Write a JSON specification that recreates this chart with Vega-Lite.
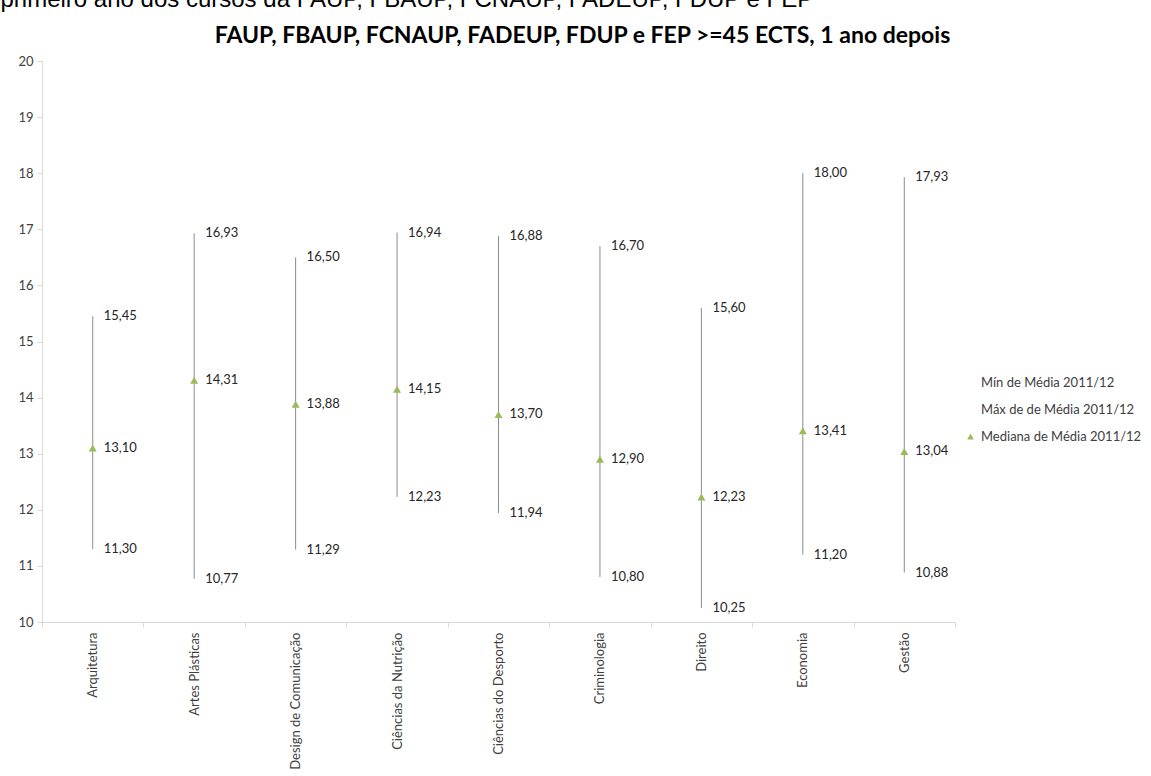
{
  "$schema": "https://vega.github.io/schema/vega-lite/v6.json",
  "width": 913,
  "height": 561,
  "autosize": "none",
  "padding": {"left": 42, "top": 61, "right": 196, "bottom": 154},
  "background": "white",
  "config": {
    "view": {"stroke": null},
    "locale": {"number": {"decimal": ",", "thousands": ".", "grouping": [3], "currency": ["", " €"]}},
    "font": "Lato"
  },
  "data": {
    "values": [
      {"curso": "Arquitetura", "min": 11.30, "max": 15.45, "med": 13.10},
      {"curso": "Artes Plásticas", "min": 10.77, "max": 16.93, "med": 14.31},
      {"curso": "Design de Comunicação", "min": 11.29, "max": 16.50, "med": 13.88},
      {"curso": "Ciências da Nutrição", "min": 12.23, "max": 16.94, "med": 14.15},
      {"curso": "Ciências do Desporto", "min": 11.94, "max": 16.88, "med": 13.70},
      {"curso": "Criminologia", "min": 10.80, "max": 16.70, "med": 12.90},
      {"curso": "Direito", "min": 10.25, "max": 15.60, "med": 12.23},
      {"curso": "Economia", "min": 11.20, "max": 18.00, "med": 13.41},
      {"curso": "Gestão", "min": 10.88, "max": 17.93, "med": 13.04}
    ]
  },
  "encoding": {
    "x": {
      "field": "curso",
      "type": "nominal",
      "sort": null,
      "scale": {"paddingInner": 0, "paddingOuter": 0},
      "axis": {
        "title": null,
        "labelAngle": -90,
        "labelAlign": "right",
        "labelBaseline": "middle",
        "labelFont": "Lato",
        "labelFontSize": 13,
        "labelColor": "#404040",
        "labelPadding": 5,
        "tickBand": "extent",
        "tickSize": 5,
        "tickColor": "#d9d9d9",
        "domainColor": "#d9d9d9",
        "labelLimit": 300
      }
    }
  },
  "layer": [
    {
      "mark": {"type": "rule", "color": "#8c8c8c", "strokeWidth": 1},
      "encoding": {
        "y": {
          "field": "min",
          "type": "quantitative",
          "scale": {"domain": [10, 20], "nice": false, "zero": false},
          "axis": {
            "title": null,
            "values": [10, 11, 12, 13, 14, 15, 16, 17, 18, 19, 20],
            "format": "d",
            "grid": false,
            "labelFont": "Lato",
            "labelFontSize": 13,
            "labelColor": "#404040",
            "labelPadding": 4,
            "tickSize": 5,
            "tickColor": "#d9d9d9",
            "domainColor": "#d9d9d9"
          }
        },
        "y2": {"field": "max"}
      }
    },
    {
      "mark": {"type": "point", "shape": "triangle-up", "filled": true, "size": 65, "opacity": 1},
      "encoding": {
        "y": {"field": "med", "type": "quantitative"},
        "color": {
          "datum": "Mediana de Média 2011/12",
          "type": "nominal",
          "scale": {
            "domain": ["Mín de Média 2011/12", "Máx de de Média 2011/12", "Mediana de Média 2011/12"],
            "range": ["transparent", "transparent", "#9bbb59"]
          },
          "legend": {
            "title": null,
            "orient": "none",
            "legendX": 922,
            "legendY": 315,
            "symbolType": "triangle-up",
            "symbolSize": 45,
            "labelFont": "Lato",
            "labelFontSize": 13,
            "labelColor": "#404040",
            "labelLimit": 300,
            "rowPadding": 13,
            "labelOffset": 4
          }
        }
      }
    },
    {
      "mark": {"type": "text", "align": "left", "baseline": "middle", "dx": 11, "fontSize": 13, "color": "#262626"},
      "encoding": {
        "y": {"field": "max", "type": "quantitative"},
        "text": {"field": "max", "type": "quantitative", "format": ".2f"}
      }
    },
    {
      "mark": {"type": "text", "align": "left", "baseline": "middle", "dx": 11, "fontSize": 13, "color": "#262626"},
      "encoding": {
        "y": {"field": "min", "type": "quantitative"},
        "text": {"field": "min", "type": "quantitative", "format": ".2f"}
      }
    },
    {
      "mark": {"type": "text", "align": "left", "baseline": "middle", "dx": 11, "fontSize": 13, "color": "#262626"},
      "encoding": {
        "y": {"field": "med", "type": "quantitative"},
        "text": {"field": "med", "type": "quantitative", "format": ".2f"}
      }
    },
    {
      "data": {"values": [{"titulo": "FAUP, FBAUP, FCNAUP, FADEUP, FDUP e FEP >=45 ECTS, 1 ano depois", "pos": 20.45}]},
      "mark": {"type": "text", "align": "center", "baseline": "middle", "dx": 84, "font": "Lato", "fontSize": 23, "fontWeight": "bold", "color": "#000000"},
      "encoding": {
        "x": null,
        "y": {"field": "pos", "type": "quantitative"},
        "text": {"field": "titulo"}
      }
    },
    {
      "data": {"values": [{"nota": "primeiro ano dos cursos da FAUP, FBAUP, FCNAUP, FADEUP, FDUP e FEP", "pos": 20.96}]},
      "mark": {"type": "text", "align": "left", "baseline": "alphabetic", "dx": -498, "font": "Liberation Sans", "fontSize": 24, "color": "#000000"},
      "encoding": {
        "x": null,
        "y": {"field": "pos", "type": "quantitative"},
        "text": {"field": "nota"}
      }
    }
  ]
}
